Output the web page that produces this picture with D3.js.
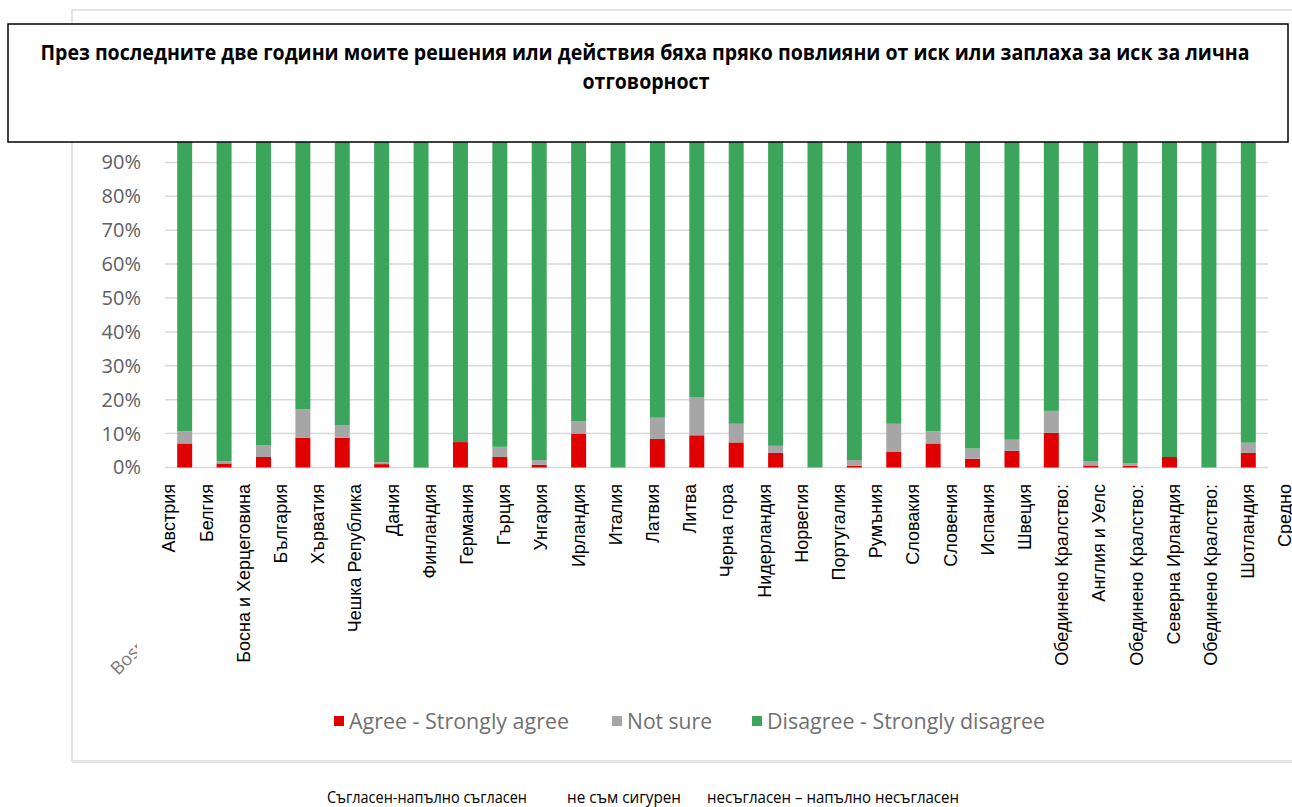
<!DOCTYPE html>
<html>
<head>
<meta charset="utf-8">
<script src="https://cdn.jsdelivr.net/npm/d3@7"></script>
<style>
  html, body { margin: 0; padding: 0; background: #fff; }
  svg { display: block; }
</style>
</head>
<body>
<svg id="chart" width="1292" height="807"></svg>
<script>
// Countries (multi-line labels split on "\n")
const categories = [
  "Австрия", "Белгия", "Босна и Херцеговина", "България", "Хърватия",
  "Чешка Република", "Дания", "Финландия", "Германия", "Гърция",
  "Унгария", "Ирландия", "Италия", "Латвия", "Литва", "Черна гора",
  "Нидерландия", "Норвегия", "Португалия", "Румъния", "Словакия",
  "Словения", "Испания", "Швеция",
  "Обединено Кралство:\nАнглия и Уелс",
  "Обединено Кралство:\nСеверна Ирландия",
  "Обединено Кралство:\nШотландия",
  "Средно"
];

// Shares in percent
const agree    = [7.1, 1.2, 3.1, 8.8, 8.8, 1.0, 0, 7.5, 3.1, 0.8, 10.0, 0, 8.4, 9.5, 7.4, 4.3, 0, 0.5, 4.7, 7.1, 2.6, 4.9, 10.2, 0.6, 0.5, 3.1, 0, 4.3];
const notSure  = [3.6, 0.6, 3.5, 8.4, 3.7, 0.5, 0, 0, 3.0, 1.4, 3.6, 0, 6.3, 11.3, 5.5, 2.1, 0, 1.7, 8.2, 3.6, 3.0, 3.3, 6.5, 1.3, 0.7, 0, 0, 3.0];
const disagree = [89.3, 98.2, 93.4, 82.8, 87.5, 98.5, 100, 92.5, 93.9, 97.8, 86.4, 100, 85.3, 79.2, 87.1, 93.6, 100, 97.8, 87.1, 89.3, 94.4, 91.8, 83.3, 98.1, 98.8, 96.9, 100, 92.7];

const seriesNames = ["Agree - Strongly agree", "Not sure", "Disagree - Strongly disagree"];
const seriesColors = ["#e00000", "#a6a6a6", "#3ca55c"];
const yTicks = [0, 10, 20, 30, 40, 50, 60, 70, 80, 90, 100];

const titleLines = [
  "През последните две години моите решения или действия бяха пряко повлияни от иск или заплаха за иск за лична",
  "отговорност"
];
const translationLabels = ["Съгласен-напълно съгласен", "не съм сигурен", "несъгласен – напълно несъгласен"];

const svg = d3.select("#chart");

// outer chart frame
svg.append("rect")
  .attr("x", 72).attr("y", 10).attr("width", 1260).attr("height", 751)
  .attr("fill", "#fff").attr("stroke", "#dcdcdc").attr("stroke-width", 1.5);
svg.append("line")
  .attr("x1", 72).attr("x2", 1292).attr("y1", 761.5).attr("y2", 761.5)
  .attr("stroke", "#e4e4e4").attr("stroke-width", 3);

const table = categories.map((c, i) => ({
  cat: c, agree: agree[i], notSure: notSure[i], disagree: disagree[i]
}));
const keys = ["agree", "notSure", "disagree"];
const stacked = d3.stack().keys(keys)(table);

const x = d3.scaleBand()
  .domain(categories)
  .range([165, 1268])
  .paddingInner(0.62)
  .paddingOuter(0.31);

const y = d3.scaleLinear().domain([0, 100]).range([467.5, 128.5]);

// gridlines
svg.append("g")
  .selectAll("line")
  .data(yTicks)
  .join("line")
  .attr("x1", 165).attr("x2", 1268)
  .attr("y1", d => y(d)).attr("y2", d => y(d))
  .attr("stroke", "#d9d9d9").attr("stroke-width", 1.5);

// y axis labels
const yAxis = d3.axisLeft(y).tickValues(yTicks).tickFormat(d => d + "%").tickSize(0).tickPadding(0);
const yg = svg.append("g").attr("transform", "translate(141,0)").call(yAxis);
yg.select(".domain").remove();
yg.selectAll("text")
  .attr("font-family", "'Open Sans', sans-serif")
  .attr("font-size", 20)
  .attr("fill", "#606060");

// stacked bars
svg.append("g")
  .selectAll("g")
  .data(stacked)
  .join("g")
  .attr("fill", (d, i) => seriesColors[i])
  .selectAll("rect")
  .data(d => d)
  .join("rect")
  .attr("x", d => x(d.data.cat))
  .attr("width", x.bandwidth())
  .attr("y", d => y(d[1]))
  .attr("height", d => Math.max(0, y(d[0]) - y(d[1])));

// remnant of the original angled category label, clipped by the label overlay
svg.append("clipPath").attr("id", "leftClip")
  .append("rect").attr("x", 72).attr("y", 470).attr("width", 65).attr("height", 250);
svg.append("g")
  .attr("clip-path", "url(#leftClip)")
  .append("text")
  .attr("transform", "translate(118,676) rotate(-45)")
  .attr("font-family", "'Open Sans', sans-serif")
  .attr("font-size", 18)
  .attr("fill", "#7a7a7a")
  .text("Bosnia and Herzegovina");

// rotated category labels (one column per text line)
const labelLines = categories.flatMap(c => c.split("\n"));
const lx = d3.scalePoint().domain(d3.range(labelLines.length)).range([169, 1285]);
svg.append("g")
  .selectAll("text")
  .data(labelLines)
  .join("text")
  .attr("transform", (d, i) => `translate(${lx(i)},484) rotate(-90)`)
  .attr("dy", "0.35em")
  .attr("text-anchor", "end")
  .attr("font-family", "'Liberation Sans', Arial, sans-serif")
  .attr("font-size", 18)
  .attr("fill", "#000")
  .text(d => d);

// fit a text to a given width with condensed glyphs
function fitWidth(sel, width) {
  sel.attr("textLength", width).attr("lengthAdjust", "spacingAndGlyphs");
}

// legend
const legendX = [334, 612, 752];
const legendTextW = [220, 85, 278];
const legend = svg.append("g");
seriesNames.forEach((name, i) => {
  legend.append("rect")
    .attr("x", legendX[i]).attr("y", 716).attr("width", 10).attr("height", 10)
    .attr("fill", seriesColors[i]);
  legend.append("text")
    .attr("x", legendX[i] + 15).attr("y", 729)
    .attr("font-family", "'Open Sans', sans-serif")
    .attr("font-size", 21)
    .attr("fill", "#707070")
    .text(name)
    .call(fitWidth, legendTextW[i]);
});

// title box over the top of the plot
svg.append("rect")
  .attr("x", 8).attr("y", 24).attr("width", 1280).attr("height", 118)
  .attr("fill", "#fff").attr("stroke", "#000").attr("stroke-width", 1.5);
const titleFont = sel => sel
  .attr("text-anchor", "middle")
  .attr("font-family", "'Open Sans', sans-serif")
  .attr("font-weight", "bold")
  .attr("font-size", 22)
  .attr("fill", "#000");
const t1 = svg.append("text")
  .attr("x", 645).attr("y", 60)
  .call(titleFont)
  .text(titleLines[0]);
const f = 1209 / t1.node().getComputedTextLength();
t1.call(fitWidth, 1209);
const t2 = svg.append("text")
  .attr("x", 646).attr("y", 89)
  .call(titleFont)
  .text(titleLines[1]);
t2.call(fitWidth, t2.node().getComputedTextLength() * f);

// Bulgarian legend translation line
const transX = [327, 567, 707];
const transW = [200, 114, 252];
translationLabels.forEach((t, i) => {
  svg.append("text")
    .attr("x", transX[i]).attr("y", 803)
    .attr("font-family", "'Open Sans', sans-serif")
    .attr("font-size", 17)
    .attr("fill", "#000")
    .text(t)
    .call(fitWidth, transW[i]);
});
</script>
</body>
</html>
